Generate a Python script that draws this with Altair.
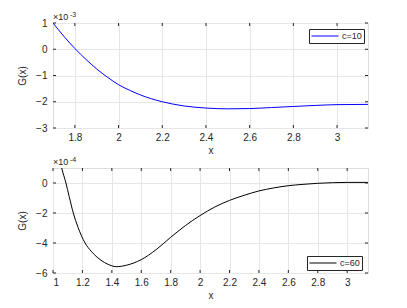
import altair as alt
import pandas as pd

# Top panel (c=10), G in units of 1e-3
x_top = [1.70, 1.75, 1.80, 1.85, 1.90, 1.95, 2.00, 2.05, 2.10, 2.20, 2.30, 2.40, 2.50, 2.60, 2.70, 2.80, 2.90, 3.00, 3.1416]
g_top = [1.00, 0.49, 0.03, -0.38, -0.75, -1.07, -1.35, -1.56, -1.74, -2.00, -2.16, -2.24, -2.27, -2.26, -2.22, -2.18, -2.14, -2.11, -2.10]

# Bottom panel (c=60), G in units of 1e-4
x_bot = [1.045, 1.059, 1.088, 1.110, 1.138, 1.170, 1.218, 1.260, 1.300, 1.350, 1.400, 1.430, 1.500, 1.600, 1.700, 1.800, 1.900, 2.000, 2.100, 2.200, 2.300, 2.400, 2.500, 2.600, 2.700, 2.800, 2.900, 3.000, 3.1416]
g_bot = [1.6, 1.0, 0.0, -0.9, -2.0, -2.95, -4.0, -4.55, -4.95, -5.30, -5.52, -5.58, -5.48, -5.11, -4.45, -3.62, -2.84, -2.17, -1.60, -1.16, -0.82, -0.53, -0.33, -0.18, -0.09, -0.02, 0.02, 0.04, 0.04]

top_ticks_x = [1.8, 2.0, 2.2, 2.4, 2.6, 2.8, 3.0]
top_ticks_y = [-3, -2, -1, 0, 1]
bot_ticks_x = [1.0, 1.2, 1.4, 1.6, 1.8, 2.0, 2.2, 2.4, 2.6, 2.8, 3.0]
bot_ticks_y = [-6, -4, -2, 0]

FONT = "Liberation Sans"
AX = "#262626"
W, H = 315, 105
TL = 3  # inward tick length

def panel(xs, gs, label, color, xdom, ydom, xt, yt, exp_text, lx, ly):
    df = pd.DataFrame({"x": xs, "G": gs, "series": label})
    xs_ = alt.Scale(domain=xdom, nice=False, zero=False)
    ys_ = alt.Scale(domain=ydom, nice=False, zero=False)
    axis_common = dict(
        gridColor="#e6e6e6", gridOpacity=1, domain=False, ticks=False,
        labelFont=FONT, labelFontSize=10, labelColor=AX,
        titleFont=FONT, titleFontSize=10, titleColor=AX, titleFontWeight="normal",
        labelExpr="format(datum.value, '~g')",
    )
    x_axis = alt.Axis(values=xt, title="x", labelPadding=4, titlePadding=3, **axis_common)
    y_axis = alt.Axis(values=yt, title="G(x)", labelPadding=6, titlePadding=8, **axis_common)
    line = alt.Chart(df).mark_line(clip=True, strokeWidth=1, interpolate="monotone").encode(
        x=alt.X("x:Q", scale=xs_, axis=x_axis),
        y=alt.Y("G:Q", scale=ys_, axis=y_axis),
        color=alt.Color("series:N", scale=alt.Scale(range=[color]),
                        legend=alt.Legend(title=None, orient="none", symbolType="M-3,0H3",
                                          symbolSize=81, symbolStrokeWidth=1, strokeColor=AX,
                                          fillColor="white", padding=2, labelFont=FONT,
                                          labelFontSize=9, labelColor=AX, legendX=lx, legendY=ly,
                                          symbolOffset=9, labelOffset=12)),
    )
    xt_df = pd.DataFrame({"x": xt})
    yt_df = pd.DataFrame({"G": yt})
    xtick_b = alt.Chart(xt_df).mark_rule(color=AX, strokeWidth=1).encode(
        x=alt.X("x:Q", scale=xs_, axis=x_axis), y=alt.value(H), y2=alt.value(H - TL))
    xtick_t = alt.Chart(xt_df).mark_rule(color=AX, strokeWidth=1).encode(
        x=alt.X("x:Q", scale=xs_, axis=x_axis), y=alt.value(0), y2=alt.value(TL))
    ytick_l = alt.Chart(yt_df).mark_rule(color=AX, strokeWidth=1).encode(
        y=alt.Y("G:Q", scale=ys_, axis=y_axis), x=alt.value(0), x2=alt.value(TL))
    ytick_r = alt.Chart(yt_df).mark_rule(color=AX, strokeWidth=1).encode(
        y=alt.Y("G:Q", scale=ys_, axis=y_axis), x=alt.value(W), x2=alt.value(W - TL))
    exp1 = alt.Chart(pd.DataFrame({"t": ["×10"]})).mark_text(
        align="left", baseline="bottom", font=FONT, fontSize=9, color=AX
    ).encode(text="t:N", x=alt.value(0), y=alt.value(-1))
    exp2 = alt.Chart(pd.DataFrame({"t": [exp_text]})).mark_text(
        align="left", baseline="bottom", font=FONT, fontSize=7, color=AX
    ).encode(text="t:N", x=alt.value(17), y=alt.value(-5))
    return alt.layer(line, xtick_b, xtick_t, ytick_l, ytick_r, exp1, exp2).properties(width=W, height=H)

top = panel(x_top, g_top, "c=10", "#0000ff", [1.7, 3.1416], [-3, 1], top_ticks_x, top_ticks_y,
            "-3", 256, 6)
bot = panel(x_bot, g_bot, "c=60", "#000000", [1.0, 3.1416], [-6, 1], bot_ticks_x, bot_ticks_y,
            "-4", 254, 88)

chart = alt.vconcat(top, bot, spacing=40, bounds="flush").resolve_scale(color="independent").configure_view(
    stroke=AX, strokeWidth=1
).configure(background="white", padding={"left": 9, "top": 2, "right": 5, "bottom": 5})

chart.save("out.html", embed_options={"renderer": "svg", "actions": False})
